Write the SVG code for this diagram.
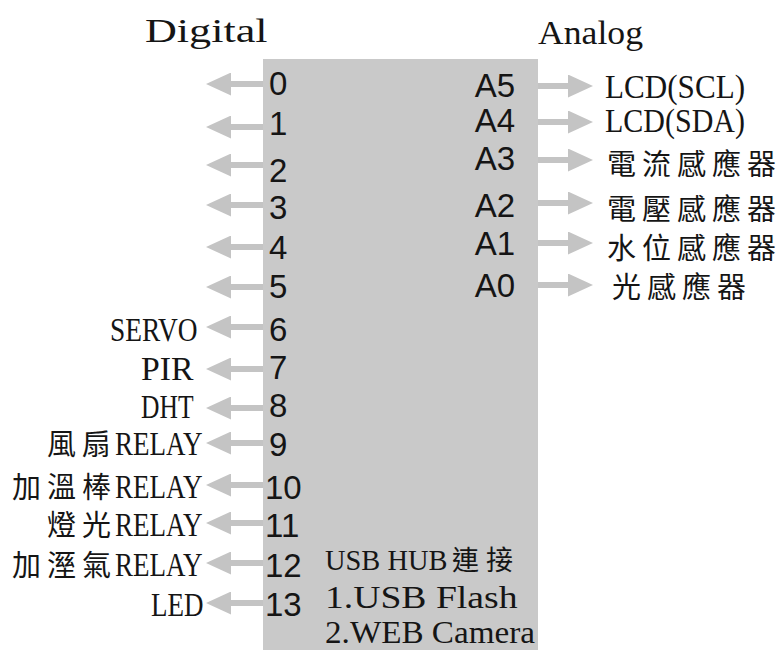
<svg xmlns="http://www.w3.org/2000/svg" width="779" height="650" viewBox="0 0 779 650">
<defs>
<style>
.ser{font-family:"Liberation Serif","Noto Sans CJK TC",serif;font-size:33px;fill:#151515}
.cjk{font-family:"Noto Sans CJK TC","Noto Sans CJK SC",sans-serif;font-size:29px;fill:#151515}
.pin{font-family:"Liberation Sans",Arial,sans-serif;font-size:33px;fill:#151515}
.usb{font-size:31px}
.usbh{font-size:29px}
.usbc{font-size:27px}
.ar{stroke:#c4c4c4;stroke-width:6;fill:none;marker-end:url(#ah)}
</style>
<marker id="ah" markerUnits="userSpaceOnUse" markerWidth="25" markerHeight="23" viewBox="0 0 25 23" refX="1" refY="11.5" orient="auto">
<path d="M0,0 L25,11.5 L0,23 z" fill="#c4c4c4"/>
</marker>
</defs>
<rect width="779" height="650" fill="#ffffff"/>

<g id="board">
<rect x="263" y="59" width="275" height="600" fill="#c9c9c9"/>
<g id="digital-pins" class="pin">
<text x="269" y="95">0</text>
<text x="269" y="135">1</text>
<text x="269" y="182">2</text>
<text x="269" y="219">3</text>
<text x="269" y="259">4</text>
<text x="269" y="298">5</text>
<text x="269" y="341">6</text>
<text x="269" y="379">7</text>
<text x="269" y="417">8</text>
<text x="269" y="456">9</text>
<text x="265" y="499">10</text>
<text x="265" y="537">11</text>
<text x="265" y="577">12</text>
<text x="265" y="616">13</text>
</g>
<g id="analog-pins" class="pin" text-anchor="end">
<text x="515" y="97">A5</text>
<text x="515" y="132">A4</text>
<text x="515" y="170">A3</text>
<text x="515" y="217">A2</text>
<text x="515" y="255">A1</text>
<text x="515" y="297">A0</text>
</g>
<g id="usb-note">
<text class="ser usbh" y="570"><tspan x="325" textLength="122.5" lengthAdjust="spacingAndGlyphs">USB HUB</tspan><tspan class="cjk usbc" x="452 486">連接</tspan></text>
<text class="ser usb" x="325" y="608" textLength="192.5" lengthAdjust="spacingAndGlyphs">1.USB Flash</text>
<text class="ser usb" x="325" y="643" textLength="210" lengthAdjust="spacingAndGlyphs">2.WEB Camera</text>
</g>
</g>

<g id="header-digital"><text class="ser" x="145" y="42" textLength="122.5" lengthAdjust="spacingAndGlyphs">Digital</text></g>
<g id="header-analog"><text class="ser" x="538" y="44" textLength="105" lengthAdjust="spacingAndGlyphs">Analog</text></g>

<g id="connectors">
<line class="ar" x1="263" y1="84" x2="230" y2="84"/>
<line class="ar" x1="263" y1="127" x2="230" y2="127"/>
<line class="ar" x1="263" y1="165" x2="230" y2="165"/>
<line class="ar" x1="263" y1="205" x2="230" y2="205"/>
<line class="ar" x1="263" y1="247" x2="230" y2="247"/>
<line class="ar" x1="263" y1="287" x2="230" y2="287"/>
<line class="ar" x1="263" y1="327" x2="230" y2="327"/>
<line class="ar" x1="263" y1="369" x2="230" y2="369"/>
<line class="ar" x1="263" y1="408" x2="230" y2="408"/>
<line class="ar" x1="263" y1="443" x2="230" y2="443"/>
<line class="ar" x1="263" y1="485" x2="230" y2="485"/>
<line class="ar" x1="263" y1="523" x2="230" y2="523"/>
<line class="ar" x1="263" y1="563" x2="230" y2="563"/>
<line class="ar" x1="263" y1="603" x2="230" y2="603"/>
<line class="ar" x1="538" y1="86" x2="569" y2="86"/>
<line class="ar" x1="538" y1="122" x2="569" y2="122"/>
<line class="ar" x1="538" y1="160" x2="569" y2="160"/>
<line class="ar" x1="538" y1="203" x2="569" y2="203"/>
<line class="ar" x1="538" y1="243" x2="569" y2="243"/>
<line class="ar" x1="538" y1="285" x2="569" y2="285"/>
</g>

<g id="servo"><text class="ser" x="110" y="341" textLength="87.5" lengthAdjust="spacingAndGlyphs">SERVO</text></g>
<g id="pir"><text class="ser" x="141" y="380" textLength="52.5" lengthAdjust="spacingAndGlyphs">PIR</text></g>
<g id="dht"><text class="ser" x="141" y="418" textLength="52.5" lengthAdjust="spacingAndGlyphs">DHT</text></g>
<g id="fan-relay"><text class="ser" y="455"><tspan class="cjk" x="47 82">風扇</tspan><tspan x="115" textLength="87.5" lengthAdjust="spacingAndGlyphs">RELAY</tspan></text></g>
<g id="heater-relay"><text class="ser" y="498"><tspan class="cjk" x="12 47 82">加溫棒</tspan><tspan x="115" textLength="87.5" lengthAdjust="spacingAndGlyphs">RELAY</tspan></text></g>
<g id="light-relay"><text class="ser" y="536"><tspan class="cjk" x="47 82">燈光</tspan><tspan x="115" textLength="87.5" lengthAdjust="spacingAndGlyphs">RELAY</tspan></text></g>
<g id="humid-relay"><text class="ser" y="576"><tspan class="cjk" x="12 47 82">加溼氣</tspan><tspan x="115" textLength="87.5" lengthAdjust="spacingAndGlyphs">RELAY</tspan></text></g>
<g id="led"><text class="ser" x="151" y="616" textLength="52.5" lengthAdjust="spacingAndGlyphs">LED</text></g>

<g id="lcd-scl"><text class="ser" x="605" y="98" textLength="140" lengthAdjust="spacingAndGlyphs">LCD(SCL)</text></g>
<g id="lcd-sda"><text class="ser" x="605" y="132" textLength="140" lengthAdjust="spacingAndGlyphs">LCD(SDA)</text></g>
<g id="current-sensor"><text class="cjk" x="607 642 677 712 747" y="175">電流感應器</text></g>
<g id="voltage-sensor"><text class="cjk" x="607 642 677 712 747" y="220">電壓感應器</text></g>
<g id="water-sensor"><text class="cjk" x="607 642 677 712 747" y="259">水位感應器</text></g>
<g id="light-sensor"><text class="cjk" x="612 647 682 717" y="298">光感應器</text></g>
</svg>
